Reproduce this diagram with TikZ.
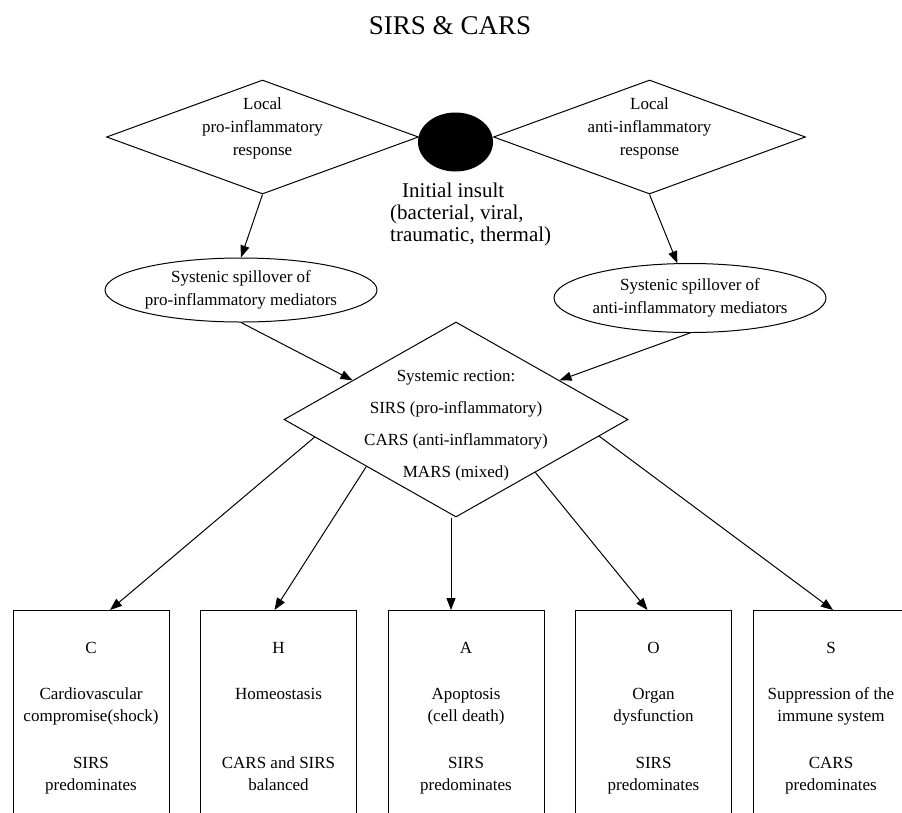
\documentclass[tikz,border=0pt]{standalone}
\usepackage{fontspec}
\setmainfont{Liberation Serif}
\usetikzlibrary{shapes.geometric,arrows.meta,calc}

\begin{document}
\begin{tikzpicture}[x=1pt,y=-1pt,
    txt/.style={align=center,inner sep=0pt,font=\fontsize{17}{23}\selectfont},
    localresp/.style={diamond,draw,line width=1pt,inner sep=0pt,minimum width=312pt,minimum height=114pt},
    sysresp/.style={diamond,draw,line width=1pt,inner sep=0pt,minimum width=344pt,minimum height=195pt},
    spill/.style={ellipse,draw,line width=1pt,inner ysep=0pt,inner xsep=-2pt,minimum width=272pt,minimum height=64pt,align=center,font=\fontsize{17}{23}\selectfont},
    outcome/.style={rectangle,draw,line width=1pt,anchor=north,minimum width=156pt,inner xsep=0pt,inner ysep=31.5pt,align=center,font=\fontsize{17}{22}\selectfont},
    arr/.style={-{Triangle[length=12pt,width=9pt]},line width=1pt}]
\useasboundingbox (0,0) rectangle (902,812);
\clip (0,0) rectangle (902,812);

\node[font=\fontsize{27}{30}\selectfont,anchor=base] (title) at (450,34) {SIRS \& CARS};

% local responses round the insult
\node[localresp] (lpro) at (262.5,137) {};
\node[localresp] (lanti) at (649.5,137) {};
\node[txt] (lprotxt) at (262.5,128) {Local\\pro-inflammatory\\response};
\node[txt] (lantitxt) at (649.5,128) {Local\\anti-inflammatory\\response};
\node[ellipse,fill=black,inner sep=0pt,minimum width=75pt,minimum height=59pt] (insult) at (455.5,142) {};
\node[align=left,anchor=north west,inner sep=0pt,font=\fontsize{21}{22}\selectfont] (insulttxt) at (390,183)
    {\hspace*{12pt}Initial insult\\(bacterial, viral,\\traumatic, thermal)};

% spillover
\node[spill] (lspill) at (241,290) {Systenic spillover of\\pro-inflammatory mediators};
\node[spill,minimum height=69pt] (rspill) at (690,298) {Systenic spillover of\\anti-inflammatory mediators};

% systemic reaction
\node[sysresp] (sys) at (456,419.5) {};
\node[txt,font=\fontsize{17}{32}\selectfont] (systxt) at (456,426)
    {Systemic rection:\\SIRS (pro-inflammatory)\\CARS (anti-inflammatory)\\MARS (mixed)};

% outcomes
\node[outcome] (c) at (91,610) {C\\[24pt]Cardiovascular\\compromise(shock)\\[25pt]SIRS\\predominates};
\node[outcome] (h) at (278.5,610) {H\\[24pt]Homeostasis\\[47pt]CARS and SIRS\\balanced};
\node[outcome] (a) at (466,610) {A\\[24pt]Apoptosis\\(cell death)\\[25pt]SIRS\\predominates};
\node[outcome] (o) at (653.5,610) {O\\[24pt]Organ\\dysfunction\\[25pt]SIRS\\predominates};
\node[outcome] (s) at (831,610) {S\\[24pt]Suppression of the\\immune system\\[25pt]CARS\\predominates};

% points on the diamond edges
\coordinate (sys-l) at ($(sys.west)!0.4!(sys.north)$);
\coordinate (sys-r) at ($(sys.north)!0.6!(sys.east)$);
\coordinate (sys-c) at ($(sys.west)!0.18!(sys.south)$);
\coordinate (sys-h) at ($(sys.west)!0.48!(sys.south)$);
\coordinate (sys-a) at ($(sys.south)+(-5,0)$);
\coordinate (sys-o) at ($(sys.south)!0.46!(sys.east)$);
\coordinate (sys-s) at ($(sys.south)!0.83!(sys.east)$);

\draw[arr] (lpro.south) -- (lspill.north);
\draw[arr] (lanti.south) -- (rspill.110);
\draw[arr] (lspill.south) -- (sys-l);
\draw[arr] (rspill.south) -- (sys-r);
\draw[arr] (sys-c) -- ($(c.north)+(19,0)$);
\draw[arr] (sys-h) -- ($(h.north)+(-4,0)$);
\draw[arr] (sys-a) -- (sys-a |- a.north);
\draw[arr] (sys-o) -- ($(o.north)+(-6,0)$);
\draw[arr] (sys-s) -- ($(s.north)+(2,0)$);
\end{tikzpicture}
\end{document}
